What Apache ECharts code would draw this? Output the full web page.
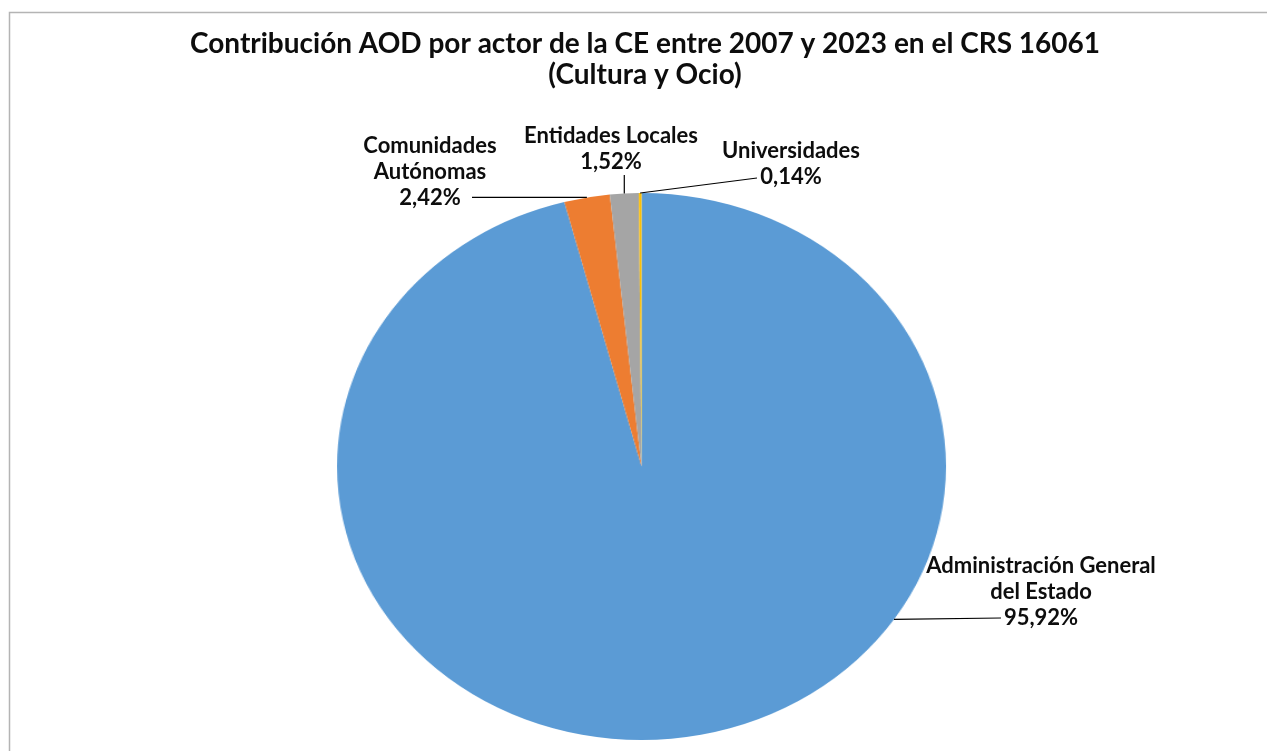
<!DOCTYPE html>
<html><head><meta charset="utf-8">
<script src="https://cdn.jsdelivr.net/npm/echarts@6/dist/echarts.min.js"></script>
<style>
html,body{margin:0;padding:0;background:#fff;overflow:hidden}
#wrap{position:relative;width:1267px;height:751px}
#pie,#top{position:absolute;left:0;top:0;width:1267px;height:751px}
#pie{transform:scaleX(1.1133);transform-origin:641.5px 466.5px}
</style></head><body>
<div id="wrap"><div id="pie"></div><div id="top"></div></div>
<script>
// ---- data ----
const titleText = 'Contribución AOD por actor de la CE entre 2007 y 2023 en el CRS 16061\n(Cultura y Ocio)';
const categories = ['Administración General\ndel Estado', 'Comunidades\nAutónomas', 'Entidades Locales', 'Universidades'];
const shares = [95.92, 2.42, 1.52, 0.14];
const colors = ['#5B9BD5', '#ED7D31', '#A5A5A5', '#FFC000'];

// ---- layout ----
const CX = 641.5, CY = 466.5, RY = 273.5, STRETCH = 1.1133, RX = RY * STRETCH;
const FONT = 'Lato, "Open Sans", sans-serif';
// label centre, line end, and (for the big slice) the angle where its leader attaches
const labelSpots = [
  {cx: 1041, cy: 592, end: [1001, 618], attachDeg: 124},
  {cx: 430, cy: 172, end: [472, 'same']},
  {cx: 611, cy: 149, end: ['same', 175]},
  {cx: 791, cy: 164, end: [757, 178]}
];

const seriesData = categories.map((c, i) => ({name: c, value: shares[i]}));
const total = shares.reduce((a, b) => a + b, 0);
function midDeg(i) {
  let acc = 0;
  for (let k = 0; k < i; k++) acc += shares[k];
  return (acc + shares[i] / 2) / total * 360;
}
function edge(deg) {
  const t = deg * Math.PI / 180;
  return [CX + RX * Math.sin(t), CY - RY * Math.cos(t)];
}
const fmt = v => v.toFixed(2).replace('.', ',') + '%';

const pieChart = echarts.init(document.getElementById('pie'), null, {renderer: 'canvas'});
pieChart.setOption({
  animation: false,
  series: [{
    type: 'pie', silent: true, center: [CX, CY], radius: RY,
    startAngle: 90, clockwise: true,
    label: {show: false}, labelLine: {show: false},
    itemStyle: {borderWidth: 0},
    data: seriesData.map((d, i) => ({...d, itemStyle: {color: colors[i]}}))
  }]
});

const topChart = echarts.init(document.getElementById('top'), null, {renderer: 'canvas'});
topChart.setOption({
  animation: false,
  backgroundColor: 'transparent',
  title: {
    text: titleText, left: 645, textAlign: 'center', top: 28, padding: 0,
    textStyle: {fontFamily: FONT, fontWeight: 'bold', fontSize: 28, lineHeight: 31, color: '#0d0d0d'}
  },
  graphic: [{
    type: 'rect', silent: true,
    shape: {x: 9.5, y: 12.5, width: 1400, height: 900},
    style: {fill: 'none', stroke: '#b4b4b4', lineWidth: 1.5}
  }],
  series: [{
    type: 'pie', silent: true, center: [CX, CY], radius: RY,
    startAngle: 90, clockwise: true, avoidLabelOverlap: false,
    itemStyle: {color: 'rgba(0,0,0,0)'},
    label: {
      show: true, position: 'outside', formatter: p => p.name + '\n' + fmt(p.value),
      fontFamily: FONT, fontWeight: 'bold', fontSize: 22, lineHeight: 26, color: '#0d0d0d', align: 'center'
    },
    labelLine: {show: true, lineStyle: {color: '#000', width: 1.2}},
    labelLayout: function (params) {
      const i = params.dataIndex;
      const s = labelSpots[i];
      const start = edge(s.attachDeg != null ? s.attachDeg : midDeg(i));
      const end = [s.end[0] === 'same' ? start[0] : s.end[0], s.end[1] === 'same' ? start[1] : s.end[1]];
      return {
        x: s.cx, y: s.cy, align: 'center', verticalAlign: 'middle',
        labelLinePoints: [start, end, end]
      };
    },
    data: seriesData
  }]
});
</script>
</body></html>
